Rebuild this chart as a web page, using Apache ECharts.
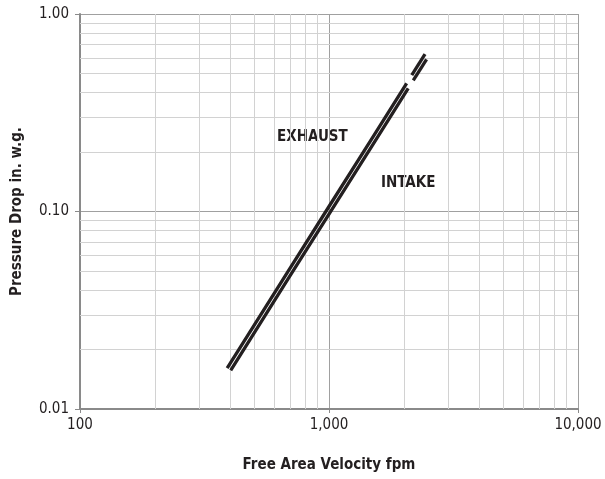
<!DOCTYPE html>
<html>
<head>
<meta charset="utf-8">
<script src="https://cdn.jsdelivr.net/npm/echarts@6/dist/echarts.min.js"></script>
<style>
  html, body { margin: 0; padding: 0; background: #fff; }
  #chart { width: 605px; height: 479px; }
</style>
</head>
<body>
<div id="chart"></div>
<script>
// values (velocity fpm, pressure drop in. w.g.)
var exhaustLine = [[390, 0.0161], [700, 0.0520], [1000, 0.106], [1500, 0.238], [2050, 0.445]];
var exhaustExt = [[2150, 0.490], [2430, 0.626]];
var intakeLine = [[403, 0.0157], [700, 0.0476], [1000, 0.097], [1500, 0.218], [2080, 0.420]];
var intakeExt = [[2180, 0.461], [2465, 0.590]];

var xMinor = [200, 300, 400, 500, 600, 700, 800, 900, 2000, 3000, 4000, 5000, 6000, 7000, 8000, 9000];
var yMinor = [0.02, 0.03, 0.04, 0.05, 0.06, 0.07, 0.08, 0.09, 0.2, 0.3, 0.4, 0.5, 0.6, 0.7, 0.8, 0.9];

var FONT = "'Liberation Sans Narrow', 'DejaVu Sans Condensed', Roboto, sans-serif";
var lineColor = "#231f20";

var chart = echarts.init(document.getElementById("chart"));

var minorLines = [];
xMinor.forEach(function (v) { minorLines.push({ xAxis: v }); });
yMinor.forEach(function (v) { minorLines.push({ yAxis: v }); });

function curve(name, data) {
  return {
    name: name,
    type: "line",
    data: data,
    symbol: "none",
    z: 5,
    lineStyle: { color: lineColor, width: 3.3, cap: "butt" },
  };
}

var option = {
  animation: false,
  grid: { left: 80, right: 27, top: 14, bottom: 70, outerBoundsMode: "none", containLabel: false },
  xAxis: {
    type: "log",
    logBase: 10,
    min: 100,
    max: 10000,
    name: "Free Area Velocity fpm",
    nameLocation: "middle",
    nameGap: 49,
    nameTextStyle: { fontFamily: FONT, fontWeight: "bold", fontSize: 15, color: "#231f20" },
    axisLine: { lineStyle: { color: "#8a8a8a", width: 2 } },
    axisTick: { length: 4, lineStyle: { color: "#8a8a8a" } },
    axisLabel: {
      fontFamily: FONT, fontSize: 15, color: "#231f20", margin: 9,
      formatter: function (v) { return Number(v).toLocaleString("en-US"); },
    },
    splitLine: { show: true, lineStyle: { color: "#a0a0a0", width: 1 } },
  },
  yAxis: {
    type: "log",
    logBase: 10,
    min: 0.01,
    max: 1,
    name: "Pressure Drop in. w.g.",
    nameLocation: "middle",
    nameGap: 55,
    nameRotate: 90,
    nameTextStyle: { fontFamily: FONT, fontWeight: "bold", fontSize: 15, color: "#231f20" },
    axisLine: { show: true, lineStyle: { color: "#8a8a8a", width: 2 } },
    axisTick: { show: true, length: 5, lineStyle: { color: "#8a8a8a" } },
    axisLabel: {
      fontFamily: FONT, fontSize: 15, color: "#231f20", margin: 11,
      formatter: function (v) { return Number(v).toFixed(2); },
    },
    splitLine: { show: true, lineStyle: { color: "#a0a0a0", width: 1 } },
  },
  series: [
    {
      name: "grid",
      type: "line",
      data: [],
      z: 1,
      silent: true,
      markLine: {
        silent: true,
        symbol: "none",
        label: { show: false },
        lineStyle: { color: "#d2d2d2", width: 1, type: "solid" },
        data: minorLines,
      },
    },
    curve("EXHAUST", exhaustLine),
    curve("EXHAUST ext", exhaustExt),
    curve("INTAKE", intakeLine),
    curve("INTAKE ext", intakeExt),
  ],
  graphic: [
    {
      type: "text", left: 277, top: 130,
      style: { text: "EXHAUST", font: "bold 15px " + FONT, fill: "#231f20" },
    },
    {
      type: "text", left: 381, top: 176,
      style: { text: "INTAKE", font: "bold 15px " + FONT, fill: "#231f20" },
    },
  ],
};

chart.setOption(option);
</script>
</body>
</html>
